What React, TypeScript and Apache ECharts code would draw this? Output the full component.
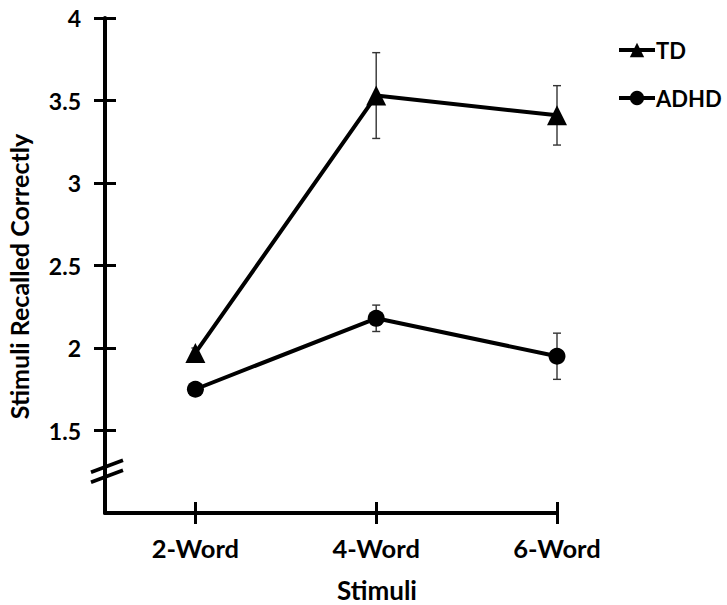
import React, { useEffect, useRef } from "react";
import * as echarts from "echarts";

const categories = ["2-Word", "4-Word", "6-Word"];
const xPositions = [1, 2, 3];
const tdMeans = [1.97, 3.53, 3.41];
const tdErrors = [0.03, 0.26, 0.18];
const adhdMeans = [1.75, 2.18, 1.95];
const adhdErrors = [0.03, 0.08, 0.14];
const yTicks = [1.5, 2, 2.5, 3, 3.5, 4];

const FONT = "Lato";

export default function App() {
  const ref = useRef<HTMLDivElement>(null);
  useEffect(() => {
    if (!ref.current) return;
    const chart = echarts.init(ref.current, null, { renderer: "svg" });

    const tdData = xPositions.map((x, i) => [x, tdMeans[i]]);
    const adhdData = xPositions.map((x, i) => [x, adhdMeans[i]]);
    const errData = [
      ...xPositions.map((x, i) => [x, tdMeans[i] - tdErrors[i], tdMeans[i] + tdErrors[i]]),
      ...xPositions.map((x, i) => [x, adhdMeans[i] - adhdErrors[i], adhdMeans[i] + adhdErrors[i]]),
    ];

    const labelStyle = { fontFamily: FONT, fontWeight: "bold" as const, color: "#000" };

    const xBase = {
      type: "value" as const,
      min: 0.5,
      max: 3,
      position: "bottom" as const,
      splitLine: { show: false },
    };
    const yBase = {
      type: "value" as const,
      min: 1,
      max: 4,
      position: "left" as const,
      splitLine: { show: false },
    };

    chart.setOption({
      animation: false,
      grid: { left: 105, right: 170, top: 18, bottom: 92, containLabel: false, outerBoundsMode: "none" },
      legend: {
        orient: "vertical",
        left: 612,
        top: 34,
        itemWidth: 36,
        itemHeight: 18,
        itemGap: 26,
        lineStyle: { width: 4, color: "#000" },
        textStyle: { ...labelStyle, fontSize: 22, padding: [0, 0, 0, -4] },
        data: ["TD", "ADHD"],
      },
      xAxis: [
        {
          ...xBase,
          name: "Stimuli",
          nameLocation: "middle",
          nameGap: 64,
          nameTextStyle: { ...labelStyle, fontSize: 26, padding: [0, 0, 0, 92] },
          axisLine: { show: true, lineStyle: { color: "#000", width: 4 } },
          axisTick: { show: true, customValues: xPositions, length: 11, lineStyle: { color: "#000", width: 3 } },
          axisLabel: {
            customValues: xPositions,
            margin: 22,
            ...labelStyle,
            fontSize: 25.5,
            formatter: (v: number) => categories[Math.round(v) - 1] ?? "",
          },
        },
        {
          ...xBase,
          axisLine: { show: false },
          axisTick: { show: true, inside: true, customValues: xPositions, length: 11, lineStyle: { color: "#000", width: 3 } },
          axisLabel: { show: false },
        },
      ],
      yAxis: [
        {
          ...yBase,
          name: "Stimuli Recalled Correctly",
          nameLocation: "middle",
          nameGap: 74,
          nameRotate: 90,
          nameTextStyle: { ...labelStyle, fontSize: 25, padding: [0, 22, 0, 0] },
          axisLine: { show: true, lineStyle: { color: "#000", width: 4 } },
          axisTick: { show: true, customValues: yTicks, length: 11, lineStyle: { color: "#000", width: 3 } },
          axisLabel: {
            customValues: yTicks,
            margin: 24,
            ...labelStyle,
            fontSize: 23,
            formatter: (v: number) => String(v),
          },
        },
        {
          ...yBase,
          axisLine: { show: false },
          axisTick: { show: true, inside: true, customValues: yTicks, length: 11, lineStyle: { color: "#000", width: 3 } },
          axisLabel: { show: false },
        },
      ],
      series: [
        {
          type: "custom",
          name: "errors",
          xAxisIndex: 0,
          yAxisIndex: 0,
          data: errData,
          z: 1,
          renderItem: (params: any, api: any) => {
            const x = api.value(0);
            const lo = api.coord([x, api.value(1)]);
            const hi = api.coord([x, api.value(2)]);
            const w = 4;
            const style = { stroke: "#333", lineWidth: 1.4 };
            return {
              type: "group",
              children: [
                { type: "line", shape: { x1: lo[0], y1: lo[1], x2: hi[0], y2: hi[1] }, style },
                { type: "line", shape: { x1: lo[0] - w, y1: lo[1], x2: lo[0] + w, y2: lo[1] }, style },
                { type: "line", shape: { x1: hi[0] - w, y1: hi[1], x2: hi[0] + w, y2: hi[1] }, style },
              ],
            };
          },
        },
        {
          type: "line",
          name: "TD",
          data: tdData,
          symbol: "triangle",
          symbolSize: 20,
          z: 3,
          lineStyle: { color: "#000", width: 4 },
          itemStyle: { color: "#000" },
        },
        {
          type: "line",
          name: "ADHD",
          data: adhdData,
          symbol: "circle",
          symbolSize: 17,
          z: 3,
          lineStyle: { color: "#000", width: 4 },
          itemStyle: { color: "#000" },
        },
      ],
    });

    // axis break marks
    const p = chart.convertToPixel({ xAxisIndex: 0, yAxisIndex: 0 }, [0.5, 1.25]) as number[];
    const bx = p[0];
    const by = p[1];
    const lineStyle = { stroke: "#000", lineWidth: 3.5 };
    chart.setOption({
      graphic: [
        { type: "line", shape: { x1: bx - 14, y1: by + 0.5, x2: bx + 18, y2: by - 11.5 }, style: lineStyle, z: 10 },
        { type: "line", shape: { x1: bx - 14, y1: by + 10.5, x2: bx + 18, y2: by - 1.5 }, style: lineStyle, z: 10 },
      ],
    });

    return () => chart.dispose();
  }, []);
  return (
    <div
      ref={ref}
      style={{ position: "fixed", left: 0, top: 0, width: 727, height: 605, background: "#fff" }}
    />
  );
}
